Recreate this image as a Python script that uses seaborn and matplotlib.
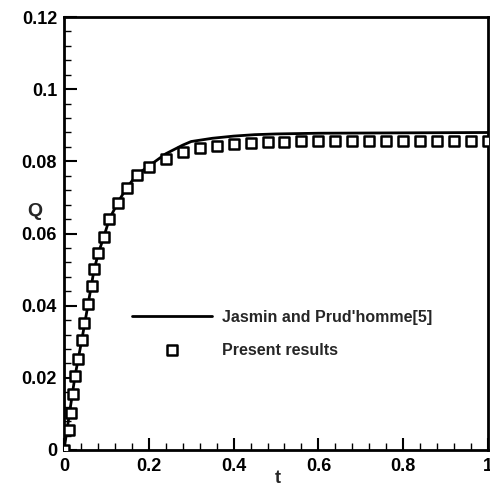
import matplotlib
matplotlib.use("Agg")
import matplotlib.pyplot as plt
from matplotlib.ticker import MultipleLocator
import seaborn as sns
import pandas as pd

# Reference solution (solid line)
ref_t = [0.0, 0.013, 0.026, 0.042, 0.057, 0.071, 0.081, 0.095, 0.107, 0.127,
         0.148, 0.172, 0.20, 0.24, 0.28, 0.30, 0.35, 0.40, 0.45, 0.50, 0.60,
         0.80, 1.0]
ref_q = [0.0, 0.0102, 0.0205, 0.0305, 0.0405, 0.0500, 0.0545, 0.0595, 0.0640,
         0.0686, 0.0727, 0.0763, 0.0787, 0.0821, 0.0845, 0.0855, 0.0864, 0.0870,
         0.0874, 0.0876, 0.0878, 0.0879, 0.0880]

# Present computation (square markers)
res_t = [0.0, 0.012, 0.016, 0.022, 0.026, 0.0338, 0.0418, 0.0473, 0.0574,
         0.0655, 0.0709, 0.0811, 0.0946, 0.107, 0.127, 0.148, 0.172, 0.20, 0.24,
         0.28, 0.32, 0.36, 0.40, 0.44, 0.48, 0.52, 0.56, 0.60, 0.64, 0.68, 0.72,
         0.76, 0.80, 0.84, 0.88, 0.92, 0.96, 1.0]
res_q = [0.0, 0.0055, 0.0102, 0.0155, 0.0205, 0.0251, 0.0305, 0.0353, 0.0405,
         0.0455, 0.0501, 0.0545, 0.0591, 0.0639, 0.0684, 0.0725, 0.0762, 0.0785,
         0.0806, 0.0827, 0.0836, 0.0843, 0.0848, 0.0852, 0.0854, 0.0855, 0.0856,
         0.0856, 0.0857, 0.0857, 0.0857, 0.0857, 0.0857, 0.0857, 0.0857, 0.0857,
         0.0857, 0.0857]

x_ticks = [0, 0.2, 0.4, 0.6, 0.8, 1]
x_tick_labels = ["0", "0.2", "0.4", "0.6", "0.8", "1"]
y_ticks = [0, 0.02, 0.04, 0.06, 0.08, 0.1, 0.12]
y_tick_labels = ["0", "0.02", "0.04", "0.06", "0.08", "0.1", "0.12"]

sns.set_style("white")
plt.rcParams["font.family"] = ["Liberation Sans", "DejaVu Sans"]
plt.rcParams["font.weight"] = "bold"

fig = plt.figure(figsize=(4.9, 4.87), dpi=100)
ax = fig.add_axes([0.1306, 0.076, 0.8653, 0.889])

ref_df = pd.DataFrame({"t": ref_t, "Q": ref_q})
res_df = pd.DataFrame({"t": res_t, "Q": res_q})

sns.lineplot(data=ref_df, x="t", y="Q", ax=ax, color="black", linewidth=2.0,
             label="Jasmin and Prud'homme[5]", zorder=2)
sns.scatterplot(data=res_df, x="t", y="Q", ax=ax, marker="s", s=44,
                facecolor="white", edgecolor="black", linewidth=1.8,
                label="Present results", zorder=3)

ax.set_xlim(0, 1)
ax.set_ylim(0, 0.12)
ax.set_xticks(x_ticks)
ax.set_xticklabels(x_tick_labels)
ax.set_yticks(y_ticks)
ax.set_yticklabels(y_tick_labels)
ax.xaxis.set_minor_locator(MultipleLocator(0.04))
ax.yaxis.set_minor_locator(MultipleLocator(0.004))

ax.tick_params(axis="both", which="both", bottom=True, left=True, top=False,
               right=False, direction="in", colors="black")
ax.tick_params(axis="both", which="major", length=9, width=1.5, labelsize=13)
ax.tick_params(axis="x", which="major", pad=6)
ax.tick_params(axis="y", which="major", pad=5)
ax.tick_params(axis="both", which="minor", length=5, width=1.0)
for lab in ax.get_xticklabels() + ax.get_yticklabels():
    lab.set_fontweight("bold")

for side in ["left", "bottom", "top", "right"]:
    ax.spines[side].set_visible(True)
    ax.spines[side].set_color("black")
    ax.spines[side].set_linewidth(2.0)

ax.set_xlabel("t", fontsize=13, fontweight="bold")
ax.xaxis.set_label_coords(0.505, -0.066)
ax.xaxis.label.set_va("center")
ax.set_ylabel("Q", fontsize=14, fontweight="bold", rotation=0)
ax.yaxis.set_label_coords(-0.068, 0.552)
ax.yaxis.label.set_va("center")
ax.yaxis.label.set_ha("center")

leg = ax.legend(loc="upper left", bbox_to_anchor=(0.145, 0.338), frameon=False,
                fontsize=11.5, handlelength=5.0, handletextpad=0.65,
                labelspacing=1.1, borderaxespad=0)
for txt in leg.get_texts():
    txt.set_fontweight("bold")

fig.savefig("out.png", dpi=100)
